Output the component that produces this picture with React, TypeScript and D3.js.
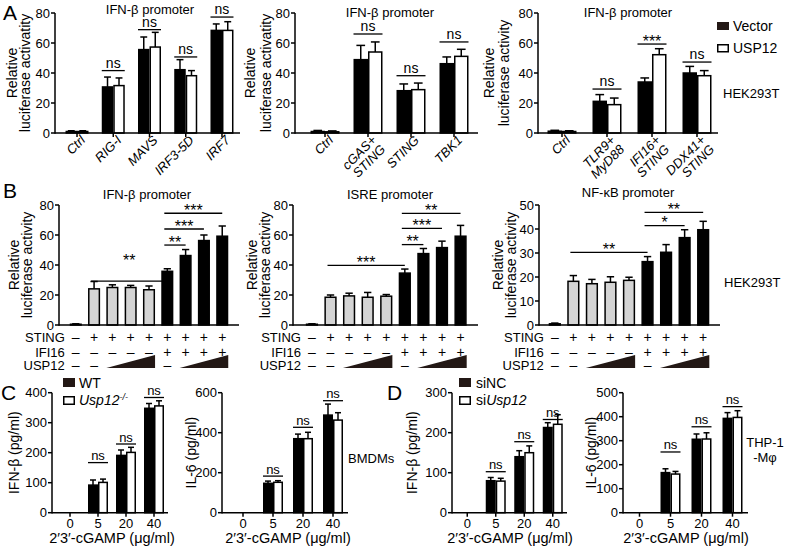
import React, { useEffect, useRef } from 'react';
import * as d3 from 'd3';

const FONT = '"Liberation Sans", Arial, Helvetica, sans-serif';
const GRAY = '#d4d4d4';
const RAMP = '#231815';

// ---------- Panel A : IFN-β promoter, Vector vs USP12 ----------
const A1_CATS = ['Ctrl', 'RIG-I', 'MAVS', 'IRF3-5D', 'IRF7'];
const A1_VECTOR = [1, 30.7, 55.6, 42.2, 68.4];
const A1_VECTOR_ERR = [0.5, 6.6, 8.4, 6.7, 4.3];
const A1_USP12 = [1, 31.6, 57.3, 38.2, 68.4];
const A1_USP12_ERR = [0.5, 5.1, 9.8, 3.4, 5.8];
const A1_SIG = [
  { cat: 'RIG-I', level: 41.6, label: 'ns' },
  { cat: 'MAVS', level: 68.9, label: 'ns' },
  { cat: 'IRF3-5D', level: 50.7, label: 'ns' },
  { cat: 'IRF7', level: 77.3, label: 'ns' },
];

const A2_CATS = ['Ctrl', 'cGAS+\nSTING', 'STING', 'TBK1'];
const A2_VECTOR = [1, 48.9, 28.2, 46.2];
const A2_VECTOR_ERR = [0.7, 9.5, 4.5, 4.5];
const A2_USP12 = [0.8, 54, 28.9, 51.1];
const A2_USP12_ERR = [0.6, 6.7, 4.4, 4.7];
const A2_SIG = [
  { cat: 'cGAS+\nSTING', level: 66, label: 'ns' },
  { cat: 'STING', level: 38.2, label: 'ns' },
  { cat: 'TBK1', level: 60.7, label: 'ns' },
];

const A3_CATS = ['Ctrl', 'TLR9+\nMyD88', 'IFI16+\nSTING', 'DDX41+\nSTING'];
const A3_VECTOR = [1.2, 21.1, 34, 40];
const A3_VECTOR_ERR = [0.6, 4.5, 2.7, 4.4];
const A3_USP12 = [1, 18.9, 52.2, 38.2];
const A3_USP12_ERR = [0.5, 4.4, 4, 3.4];
const A3_SIG = [
  { cat: 'TLR9+\nMyD88', level: 29.3, label: 'ns' },
  { cat: 'IFI16+\nSTING', level: 59.3, label: '***' },
  { cat: 'DDX41+\nSTING', level: 47.3, label: 'ns' },
];

// ---------- Panel B : STING / IFI16 / USP12 titration ----------
const B_STING = ['–', '+', '+', '+', '+', '+', '+', '+', '+'];
const B_IFI16 = ['–', '–', '–', '–', '–', '+', '+', '+', '+'];
const B_USP12 = ['–', '–', '', '', '', '–', '', '', ''];
const B_USP12_RAMPS = [[2, 4], [6, 8]];
const B_GRAY_BARS = [0, 1, 2, 3, 4];

const B1_VALUES = [0.5, 24.1, 25, 25, 23.5, 35.8, 46.3, 56.3, 59.2];
const B1_ERR = [0.3, 4.9, 1.8, 1.4, 2.5, 1.7, 4, 3.7, 6.8];
const B1_SIG = [
  { from: 1, to: 5, level: 29.3, label: '**', textLevel: 46 },
  { from: 5, to: 6, level: 53.3, label: '**' },
  { from: 5, to: 7, level: 64, label: '***' },
  { from: 5, to: 8, level: 74.5, label: '***' },
];

const B2_VALUES = [0.5, 18.5, 19.4, 18.5, 19.2, 34.6, 47.6, 51.6, 59.2];
const B2_ERR = [0.3, 1.5, 1.8, 3.2, 1.1, 2.7, 3.4, 4.3, 7.2];
const B2_SIG = [
  { from: 1, to: 5, level: 39.8, label: '***' },
  { from: 5, to: 6, level: 53.6, label: '**' },
  { from: 5, to: 7, level: 64.4, label: '***' },
  { from: 5, to: 8, level: 74.4, label: '**' },
];

const B3_VALUES = [0.5, 18.2, 17.2, 17.8, 18.6, 26.4, 30.3, 36.4, 39.7];
const B3_ERR = [0.3, 2.4, 1.8, 2.3, 1.3, 2.1, 3.2, 3.3, 3.5];
const B3_SIG = [
  { from: 1, to: 5, level: 30.3, label: '**' },
  { from: 5, to: 7, level: 41.4, label: '*' },
  { from: 5, to: 8, level: 46.9, label: '**' },
];

// ---------- Panels C / D : 2'3'-cGAMP doses ----------
const DOSES = ['0', '5', '20', '40'];

const C1_WT = [0, 92, 191, 348];
const C1_WT_ERR = [0, 17, 18, 16];
const C1_KO = [0, 101, 201, 356];
const C1_KO_ERR = [0, 11, 17, 17];
const C1_NS = [167, 229, 384];

const C2_WT = [0, 147, 370, 488];
const C2_WT_ERR = [0, 11, 23, 55];
const C2_KO = [0, 152, 370, 463];
const C2_KO_ERR = [0, 8, 32, 37];
const C2_NS = [183, 427, 560];

const D1_NC = [0, 80, 140, 213];
const D1_NC_ERR = [0, 8, 15, 12];
const D1_SI = [0, 79, 150, 221];
const D1_SI_ERR = [0, 7, 17, 24];
const D1_NS = [102.5, 177.5, 233];

const D2_NC = [0, 167, 306, 393];
const D2_NC_ERR = [0, 16, 22, 24];
const D2_SI = [0, 161, 307, 397];
const D2_SI_ERR = [0, 11, 26, 28];
const D2_NS = [253, 358, 442];

type Sel = d3.Selection<SVGGElement, unknown, null, undefined>;

function txt(g: Sel, x: number, y: number, s: string, size: number, anchor = 'middle') {
  return g.append('text')
    .attr('x', x).attr('y', y)
    .attr('font-size', size)
    .attr('text-anchor', anchor)
    .attr('fill', '#000')
    .text(s);
}

function yAxis(g: Sel, y: d3.ScaleLinear<number, number>, axisX: number, ticks: number[]) {
  g.append('line')
    .attr('x1', axisX).attr('x2', axisX)
    .attr('y1', y.range()[0] + 0.75).attr('y2', y.range()[1])
    .attr('stroke', '#000').attr('stroke-width', 1.5);
  g.selectAll(null).data(ticks).enter().append('line')
    .attr('x1', axisX - 4).attr('x2', axisX)
    .attr('y1', d => y(d)).attr('y2', d => y(d))
    .attr('stroke', '#000').attr('stroke-width', 1.5);
  g.selectAll(null).data(ticks).enter().append('text')
    .attr('x', axisX - 5).attr('y', d => y(d) + 4.7)
    .attr('text-anchor', 'end').attr('font-size', 13)
    .text(d => d);
}

function yTitle(g: Sel, lines: { t: string; x: number }[], cy: number) {
  lines.forEach(l => {
    g.append('text')
      .attr('transform', `translate(${l.x},${cy}) rotate(-90)`)
      .attr('text-anchor', 'middle').attr('font-size', 14)
      .text(l.t);
  });
}

function errBar(g: Sel, cx: number, yv: number, ye: number, cap: number) {
  g.append('line').attr('x1', cx).attr('x2', cx).attr('y1', yv).attr('y2', ye)
    .attr('stroke', '#000').attr('stroke-width', 1.5);
  g.append('line').attr('x1', cx - cap / 2).attr('x2', cx + cap / 2).attr('y1', ye).attr('y2', ye)
    .attr('stroke', '#000').attr('stroke-width', 1.5);
}

function sigMark(g: Sel, x1: number, x2: number, ly: number, label: string, textY?: number) {
  g.append('line').attr('x1', x1).attr('x2', x2).attr('y1', ly).attr('y2', ly)
    .attr('stroke', '#000').attr('stroke-width', 1.3);
  const cx = (x1 + x2) / 2;
  if (label === 'ns') {
    txt(g, cx, (textY ?? ly) - 3, 'ns', 14);
  } else {
    const c = textY ?? ly - 7;
    txt(g, cx, c + 9.5, label, 16);
  }
}

interface GroupCfg {
  cats: string[];
  s1: number[]; e1: number[];
  s2: number[]; e2: number[];
  max: number; ticks: number[];
  top: number; bottom: number;
  axisX: number; axisEnd: number;
  band: [number, number];
  barW: number;
  rotated: boolean;
  sig: { cat: string; level: number; label: string }[];
  title?: string; titleX?: number; titleY?: number;
  yLines: { t: string; x: number }[];
}

function grouped(root: Sel, c: GroupCfg) {
  const g = root.append('g');
  const y = d3.scaleLinear().domain([0, c.max]).range([c.bottom, c.top]);
  const x = d3.scaleBand().domain(c.cats).range(c.band);
  const cx = (k: string) => (x(k) as number) + x.bandwidth() / 2;
  const y0 = y(0);

  c.cats.forEach((k, i) => {
    const m = cx(k);
    [[c.s1[i], c.e1[i], '#000', m - c.barW], [c.s2[i], c.e2[i], '#fff', m]].forEach(([v, e, fill, bx]) => {
      const vv = v as number;
      if (vv <= 0) return;
      g.append('rect')
        .attr('x', (bx as number) + 0.75).attr('y', y(vv))
        .attr('width', c.barW - 1.5).attr('height', y0 - y(vv))
        .attr('fill', fill as string).attr('stroke', '#000').attr('stroke-width', 1.5);
      errBar(g, (bx as number) + c.barW / 2, y(vv), y(vv + (e as number)), c.barW * 0.6);
    });
  });

  // x axis
  g.append('line').attr('x1', c.axisX).attr('x2', c.axisEnd).attr('y1', y0).attr('y2', y0)
    .attr('stroke', '#000').attr('stroke-width', 1.5);
  c.cats.forEach(k => {
    g.append('line').attr('x1', cx(k)).attr('x2', cx(k)).attr('y1', y0).attr('y2', y0 + 4)
      .attr('stroke', '#000').attr('stroke-width', 1.5);
  });
  yAxis(g, y, c.axisX, c.ticks);

  if (c.rotated) {
    c.cats.forEach(k => {
      const t = g.append('text')
        .attr('transform', `translate(${cx(k) + 9},${y0 + 8}) rotate(-45)`)
        .attr('text-anchor', 'end').attr('font-size', 13).attr('font-style', 'italic');
      k.split('\n').forEach((line, j) => {
        t.append('tspan').attr('x', 0).attr('dy', j === 0 ? 0 : '1.0em').text(line);
      });
    });
  } else {
    c.cats.forEach(k => txt(g, cx(k), y0 + 15.5, k, 13));
  }

  c.sig.forEach(s => {
    const m = cx(s.cat);
    sigMark(g, m - c.barW, m + c.barW, y(s.level), s.label);
  });

  if (c.title) txt(g, c.titleX as number, c.titleY as number, c.title, 13);
  yTitle(g, c.yLines, (c.top + c.bottom) / 2);
  return { g, y, x, cx };
}

interface BCfg {
  values: number[]; err: number[];
  sig: { from: number; to: number; level: number; label: string; textLevel?: number }[];
  max: number; ticks: number[];
  axisX: number; axisEnd: number; band: [number, number];
  title: string; titleX: number; titleY: number;
  yLines: { t: string; x: number }[];
}

function titration(root: Sel, c: BCfg) {
  const g = root.append('g');
  const top = 205, bottom = 325;
  const y = d3.scaleLinear().domain([0, c.max]).range([bottom, top]);
  const idx = d3.range(c.values.length);
  const x = d3.scaleBand<number>().domain(idx).range(c.band).padding(0.34);
  const bw = x.bandwidth();
  const cx = (i: number) => (x(i) as number) + bw / 2;

  idx.forEach(i => {
    const v = c.values[i];
    g.append('rect')
      .attr('x', (x(i) as number) + 0.75).attr('y', y(v))
      .attr('width', bw - 1.5).attr('height', Math.max(0.5, bottom - y(v)))
      .attr('fill', B_GRAY_BARS.includes(i) ? GRAY : '#000')
      .attr('stroke', '#000').attr('stroke-width', 1.5);
    errBar(g, cx(i), y(v), y(v + c.err[i]), bw * 0.6);
  });

  g.append('line').attr('x1', c.axisX).attr('x2', c.axisEnd).attr('y1', bottom).attr('y2', bottom)
    .attr('stroke', '#000').attr('stroke-width', 1.5);
  yAxis(g, y, c.axisX, c.ticks);

  c.sig.forEach(s => {
    sigMark(g, cx(s.from) - 3, cx(s.to), y(s.level), s.label,
      s.textLevel !== undefined ? y(s.textLevel) : undefined);
  });

  // condition table
  const rows: [string, string[], number][] = [
    ['STING', B_STING, 337],
    ['IFI16', B_IFI16, 352],
    ['USP12', B_USP12, 365],
  ];
  rows.forEach(([name, signs, ry]) => {
    txt(g, cx(0) - 11, ry + 4.7, name, 13, 'end');
    signs.forEach((s, i) => { if (s) txt(g, cx(i), ry + 4.5, s, 14); });
  });
  B_USP12_RAMPS.forEach(([a, b]) => {
    const x1 = cx(a) - bw / 2, x2 = cx(b) + bw / 2;
    g.append('polygon')
      .attr('points', `${x1},368 ${x2},368 ${x2},355`)
      .attr('fill', RAMP);
  });

  txt(g, c.titleX, c.titleY, c.title, 13);
  yTitle(g, c.yLines, (top + bottom) / 2);
}

function doseChart(root: Sel, c: {
  s1: number[]; e1: number[]; s2: number[]; e2: number[]; ns: number[];
  max: number; ticks: number[]; axisX: number; axisEnd: number; band: [number, number];
  yLine: { t: string; x: number };
}) {
  const top = 392.7, bottom = 512.7;
  const { g, y, cx } = grouped(root, {
    cats: DOSES, s1: c.s1, e1: c.e1, s2: c.s2, e2: c.e2,
    max: c.max, ticks: c.ticks, top, bottom,
    axisX: c.axisX, axisEnd: c.axisEnd, band: c.band, barW: 10,
    rotated: false, sig: [], yLines: [c.yLine],
  });
  DOSES.slice(1).forEach((d, i) => {
    const m = cx(d);
    g.append('line').attr('x1', m - 10).attr('x2', m + 10)
      .attr('y1', y(c.ns[i])).attr('y2', y(c.ns[i]))
      .attr('stroke', '#000').attr('stroke-width', 1.3);
    txt(g, m, y(c.ns[i]) - 2.5, 'ns', 13);
  });
  txt(g, (c.band[0] + c.band[1]) / 2, 543, '2\u20323\u2032-cGAMP (\u03bcg/ml)', 14.5);
}

export default function App() {
  const ref = useRef<SVGSVGElement>(null);

  useEffect(() => {
    if (!ref.current) return;
    const svg = d3.select(ref.current);
    svg.selectAll('*').remove();
    const root = svg.append('g').attr('font-family', FONT).attr('fill', '#000') as unknown as Sel;

    // ---- A ----
    grouped(root, {
      cats: A1_CATS, s1: A1_VECTOR, e1: A1_VECTOR_ERR, s2: A1_USP12, e2: A1_USP12_ERR,
      max: 80, ticks: [0, 20, 40, 60, 80], top: 13, bottom: 133,
      axisX: 55, axisEnd: 240, band: [58.9, 240.1], barW: 11.5, rotated: true, sig: A1_SIG,
      title: 'IFN-β promoter', titleX: 150, titleY: 14,
      yLines: [{ t: 'Relative', x: 17 }, { t: 'luciferase activatity', x: 30 }],
    });
    grouped(root, {
      cats: A2_CATS, s1: A2_VECTOR, e1: A2_VECTOR_ERR, s2: A2_USP12, e2: A2_USP12_ERR,
      max: 80, ticks: [0, 20, 40, 60, 80], top: 13, bottom: 133,
      axisX: 295, axisEnd: 478, band: [303.5, 475.5], barW: 14.5, rotated: true, sig: A2_SIG,
      title: 'IFN-β promoter', titleX: 390, titleY: 17,
      yLines: [{ t: 'Relative', x: 255 }, { t: 'luciferase activatity', x: 271 }],
    });
    grouped(root, {
      cats: A3_CATS, s1: A3_VECTOR, e1: A3_VECTOR_ERR, s2: A3_USP12, e2: A3_USP12_ERR,
      max: 80, ticks: [0, 20, 40, 60, 80], top: 13, bottom: 133,
      axisX: 538, axisEnd: 718, band: [539.5, 719.5], barW: 14.5, rotated: true, sig: A3_SIG,
      title: 'IFN-β promoter', titleX: 628, titleY: 17,
      yLines: [{ t: 'Relative', x: 494 }, { t: 'luciferase activity', x: 509 }],
    });
    // legend A
    root.append('rect').attr('x', 717).attr('y', 22).attr('width', 12).attr('height', 8).attr('fill', RAMP);
    root.append('rect').attr('x', 717.75).attr('y', 44.75).attr('width', 10.5).attr('height', 7)
      .attr('fill', '#fff').attr('stroke', '#000').attr('stroke-width', 1.5);
    txt(root, 733, 31, 'Vector', 14, 'start');
    txt(root, 733, 53, 'USP12', 14, 'start');
    txt(root, 723, 98, 'HEK293T', 13, 'start');

    // ---- B ----
    titration(root, {
      values: B1_VALUES, err: B1_ERR, sig: B1_SIG, max: 80, ticks: [0, 20, 40, 60, 80],
      axisX: 59, axisEnd: 239, band: [63.5, 234.5],
      title: 'IFN-β promoter', titleX: 147, titleY: 199,
      yLines: [{ t: 'Relative', x: 19 }, { t: 'luciferase activity', x: 32 }],
    });
    titration(root, {
      values: B2_VALUES, err: B2_ERR, sig: B2_SIG, max: 80, ticks: [0, 20, 40, 60, 80],
      axisX: 293, axisEnd: 478, band: [299.5, 473],
      title: 'ISRE promoter', titleX: 390, titleY: 199,
      yLines: [{ t: 'Relative', x: 257 }, { t: 'luciferase activity', x: 270 }],
    });
    titration(root, {
      values: B3_VALUES, err: B3_ERR, sig: B3_SIG, max: 50, ticks: [0, 10, 20, 30, 40, 50],
      axisX: 539, axisEnd: 720, band: [542.4, 715.6],
      title: 'NF-κB promoter', titleX: 628, titleY: 197,
      yLines: [{ t: 'Relative', x: 503 }, { t: 'luciferase activity', x: 516 }],
    });
    txt(root, 724, 287, 'HEK293T', 13, 'start');

    // ---- C ----
    doseChart(root, {
      s1: C1_WT, e1: C1_WT_ERR, s2: C1_KO, e2: C1_KO_ERR, ns: C1_NS,
      max: 400, ticks: [0, 100, 200, 300, 400], axisX: 52, axisEnd: 168, band: [56, 168],
      yLine: { t: 'IFN-β (pg/ml)', x: 19 },
    });
    doseChart(root, {
      s1: C2_WT, e1: C2_WT_ERR, s2: C2_KO, e2: C2_KO_ERR, ns: C2_NS,
      max: 600, ticks: [0, 200, 400, 600], axisX: 222, axisEnd: 348, band: [228, 348],
      yLine: { t: 'IL-6 (pg/ml)', x: 196 },
    });
    root.append('rect').attr('x', 63).attr('y', 378).attr('width', 12).attr('height', 9).attr('fill', RAMP);
    root.append('rect').attr('x', 63.75).attr('y', 396.75).attr('width', 10.5).attr('height', 7.5)
      .attr('fill', '#fff').attr('stroke', '#000').attr('stroke-width', 1.5);
    txt(root, 79, 387.5, 'WT', 14, 'start');
    const ko = txt(root, 79, 405, '', 14, 'start');
    ko.append('tspan').attr('font-style', 'italic').text('Usp12');
    ko.append('tspan').attr('font-style', 'italic').attr('font-size', 9).attr('dy', -5).text('-/-');
    txt(root, 348, 463, 'BMDMs', 13, 'start');

    // ---- D ----
    doseChart(root, {
      s1: D1_NC, e1: D1_NC_ERR, s2: D1_SI, e2: D1_SI_ERR, ns: D1_NS,
      max: 300, ticks: [0, 100, 200, 300], axisX: 452, axisEnd: 567, band: [453, 567],
      yLine: { t: 'IFN-β (pg/ml)', x: 417 },
    });
    doseChart(root, {
      s1: D2_NC, e1: D2_NC_ERR, s2: D2_SI, e2: D2_SI_ERR, ns: D2_NS,
      max: 500, ticks: [0, 100, 200, 300, 400, 500], axisX: 623, axisEnd: 748, band: [624, 748],
      yLine: { t: 'IL-6 (pg/ml)', x: 596 },
    });
    root.append('rect').attr('x', 459).attr('y', 378).attr('width', 12).attr('height', 9).attr('fill', RAMP);
    root.append('rect').attr('x', 459.75).attr('y', 396.75).attr('width', 10.5).attr('height', 7.5)
      .attr('fill', '#fff').attr('stroke', '#000').attr('stroke-width', 1.5);
    txt(root, 476, 387.5, 'siNC', 14, 'start');
    const si = txt(root, 476, 405, 'si', 14, 'start');
    si.append('tspan').attr('font-style', 'italic').text('Usp12');
    txt(root, 765, 447, 'THP-1', 13);
    txt(root, 765, 462, '-Mφ', 13);

    // panel letters
    txt(root, 3, 20, 'A', 21, 'start');
    txt(root, 3, 198, 'B', 21, 'start');
    txt(root, 1, 400, 'C', 21, 'start');
    txt(root, 387, 400, 'D', 21, 'start');
  }, []);

  return (
    <svg
      ref={ref}
      width={788}
      height={551}
      style={{ position: 'absolute', left: 0, top: 0, background: '#fff' }}
    />
  );
}
